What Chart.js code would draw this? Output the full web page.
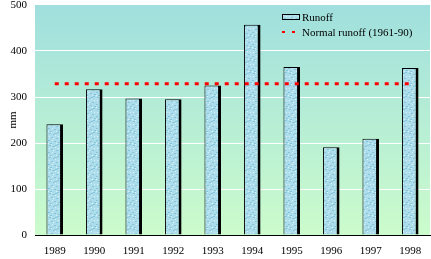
<!DOCTYPE html>
<html>
<head>
<meta charset="utf-8">
<script src="https://cdn.jsdelivr.net/npm/chart.js@4"></script>
<style>
  html, body { margin: 0; padding: 0; background: #fff; }
  #wrap { width: 431px; height: 259px; }
</style>
</head>
<body>
<div id="wrap"><canvas id="runoffChart"></canvas></div>
<script>
// data
const years = ['1989', '1990', '1991', '1992', '1993', '1994', '1995', '1996', '1997', '1998'];
const runoff = [241, 317, 297, 295, 325, 457, 365, 191, 209, 363];
const normalRunoff = [329, 329, 329, 329, 329, 329, 329, 329, 329, 329];
const yTicks = [0, 100, 200, 300, 400, 500];

const serif = '"Liberation Serif", "Times New Roman", serif';

// light blue "water" texture for the bars
function makeTexture() {
    const c = document.createElement('canvas');
    c.width = 12; c.height = 12;
    const g = c.getContext('2d');
    g.fillStyle = '#addcea';
    g.fillRect(0, 0, 12, 12);
    g.fillStyle = '#86c6dc';
    const spots = [[1,1],[5,2],[9,0],[3,5],[8,6],[0,8],[6,9],[10,10],[2,11],[7,1]];
    spots.forEach(function (p) { g.fillRect(p[0], p[1], 2, 1); });
    g.fillStyle = '#d8f2f8';
    const lights = [[3,0],[7,3],[1,4],[10,4],[4,8],[8,11],[0,11],[5,6]];
    lights.forEach(function (p) { g.fillRect(p[0], p[1], 1, 1); });
    return g.createPattern(c, 'repeat');
}

const ctx = document.getElementById('runoffChart').getContext('2d');
const texture = makeTexture();

// plot background: teal at the top fading to pale green at the bottom
const plotBackground = {
    id: 'plotBackground',
    beforeDraw: function (chart) {
        const a = chart.chartArea;
        const c = chart.ctx;
        const grad = c.createLinearGradient(0, a.top, 0, a.bottom);
        grad.addColorStop(0, '#a0dfde');
        grad.addColorStop(1, '#ccfccc');
        c.save();
        c.fillStyle = grad;
        c.fillRect(a.left, a.top, a.right - a.left, a.bottom - a.top);
        c.restore();
    }
};

// legend drawn inside the plot, top right
const innerLegend = {
    id: 'innerLegend',
    afterDraw: function (chart) {
        const c = chart.ctx;
        const x = 282, y1 = 17, y2 = 32;
        c.save();
        c.fillStyle = texture;
        c.fillRect(x, y1 - 2.5, 17, 5);
        c.strokeStyle = '#000';
        c.lineWidth = 1;
        c.strokeRect(x + 0.5, y1 - 2.5, 17, 5);
        c.fillStyle = '#ff0000';
        c.fillRect(x, y2 - 1, 3, 2);
        c.fillRect(x + 10, y2 - 1, 3, 2);
        c.fillStyle = '#000';
        c.font = '11px ' + serif;
        c.textBaseline = 'middle';
        c.fillText('Runoff', 302, y1 + 1);
        c.fillText('Normal runoff (1961-90)', 302, y2 + 1);
        c.restore();
    }
};

new Chart(ctx, {
    data: {
        labels: years,
        datasets: [{
            type: 'line',
            label: 'Normal runoff (1961-90)',
            data: normalRunoff,
            borderColor: '#ff0000',
            borderWidth: 3,
            borderDash: [4, 6],
            pointRadius: 0,
            fill: false,
            order: 0
        }, {
            type: 'bar',
            label: 'Runoff',
            data: runoff,
            backgroundColor: texture,
            borderColor: '#000',
            borderWidth: { left: 1, top: 1, right: 3, bottom: 0 },
            borderSkipped: false,
            barPercentage: 0.42,
            categoryPercentage: 1,
            order: 1
        }]
    },
    options: {
        responsive: true,
        maintainAspectRatio: false,
        animation: false,
        layout: { padding: { top: 5, right: 1, left: 0, bottom: 0 } },
        plugins: {
            legend: { display: false },
            tooltip: { enabled: false }
        },
        scales: {
            x: {
                offset: true,
                grid: { display: false, drawTicks: false },
                border: { display: true, color: '#000', width: 1 },
                ticks: {
                    color: '#000',
                    font: { family: serif, size: 11 },
                    padding: 10,
                    maxRotation: 0
                },
                afterFit: function (scale) {
                    scale.height = 24;
                    scale.paddingLeft = 0;
                    scale.paddingRight = 0;
                }
            },
            y: {
                min: 0,
                max: 500,
                afterBuildTicks: function (scale) {
                    scale.ticks = yTicks.map(function (v) { return { value: v }; });
                },
                grid: {
                    color: function (c) {
                        return (c.tick && (c.tick.value === 0 || c.tick.value === 500)) ? 'rgba(0,0,0,0)' : '#ffffff';
                    },
                    lineWidth: 1,
                    drawTicks: false
                },
                border: { display: false },
                ticks: {
                    color: '#000',
                    font: { family: serif, size: 11 },
                    padding: 8
                },
                title: {
                    display: true,
                    text: 'mm',
                    color: '#000',
                    font: { family: serif, size: 11 },
                    padding: { top: 7, bottom: 0 }
                },
                afterFit: function (scale) {
                    scale.width = 35;
                    scale.paddingTop = 0;
                    scale.paddingBottom = 0;
                }
            }
        }
    },
    plugins: [plotBackground, innerLegend]
});
</script>
</body>
</html>
